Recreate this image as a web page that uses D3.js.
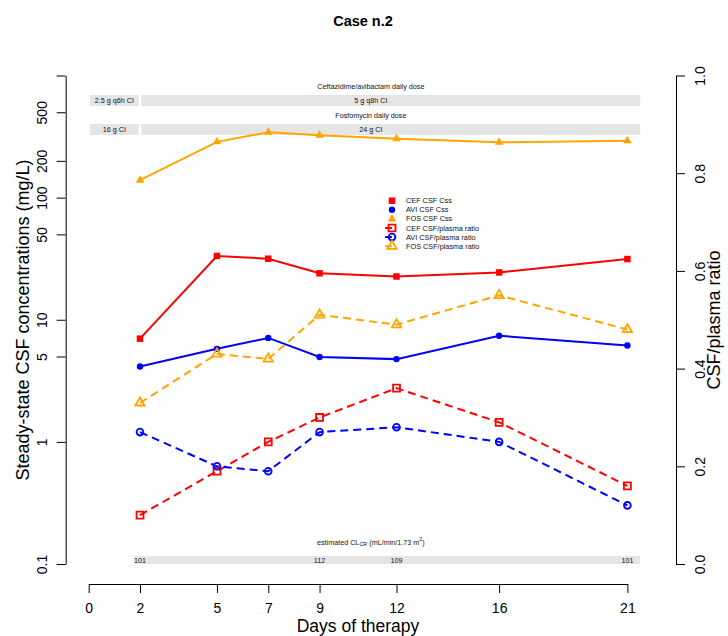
<!DOCTYPE html>
<html>
<head>
<meta charset="utf-8">
<script src="https://cdn.jsdelivr.net/npm/d3@7"></script>
<style>
body { margin: 0; background: #fff; }
svg { display: block; font-family: "Liberation Sans", Arial, sans-serif; }
</style>
</head>
<body>
<script>
window.onload = main;

// days of therapy at which samples were taken
const days = [2, 5, 7, 9, 12, 16, 21];

// steady-state CSF concentrations (mg/L)
const cefCss = [7.0, 33.3, 31.6, 24.0, 22.6, 24.4, 31.4];
const aviCss = [4.14, 5.78, 7.1, 4.95, 4.76, 7.39, 6.15];
const fosCss = [139, 286, 343, 324, 303, 284, 292];

// CSF/plasma ratios
const cefRatio = [0.10, 0.19, 0.25, 0.30, 0.36, 0.29, 0.16];
const aviRatio = [0.27, 0.20, 0.19, 0.27, 0.28, 0.25, 0.12];
const fosRatio = [0.33, 0.43, 0.42, 0.51, 0.49, 0.55, 0.48];

const xTicks = [0, 2, 5, 7, 9, 12, 16, 21];
const yTicks = [0.1, 1, 5, 10, 50, 100, 200, 500, 1000];
const y2Ticks = [0, 0.2, 0.4, 0.6, 0.8, 1.0];

// dose regimens (day ranges)
const cazDoseLabels = ["2.5 g q6h CI", "5 g q8h CI"];
const fosDoseLabels = ["16 g CI", "24 g CI"];
const doseStart = [0.05, 2.05];
const doseEnd = [1.95, 21.5];
const doseLabelDay = [1, 11];

// estimated creatinine clearance
const clcrDays = [2, 9, 12, 21];
const clcrValues = [101, 112, 109, 101];

const svgWidth = 728;
const svgHeight = 636;

const RED = "#FF0000", BLUE = "#0000FF", ORANGE = "#FFA500";
const BAR_GRAY = "#E5E5E5";

function main() {
    const svg = d3.select("body").append("svg")
        .attr("width", svgWidth)
        .attr("height", svgHeight);

    const x = d3.scaleLinear().domain([0, 21]).range([88.7, 627.4]);
    const y = d3.scaleLog().domain([0.1, 1000]).range([564, 75.5]);
    const y2 = d3.scaleLinear().domain([0, 1]).range([564, 75.5]);

    // title
    svg.append("text")
        .attr("x", 363).attr("y", 26)
        .attr("text-anchor", "middle")
        .style("font-size", "14.5px").style("font-weight", "bold")
        .text("Case n.2");

    // dose bars
    const drawDoseRow = (title, labels, yTop, titleY) => {
        svg.append("text")
            .attr("x", x(11)).attr("y", titleY)
            .attr("text-anchor", "middle").attr("dominant-baseline", "central")
            .style("font-size", "7.2px").attr("fill", "#111")
            .text(title);
        labels.forEach((lab, i) => {
            svg.append("rect")
                .attr("x", x(doseStart[i])).attr("y", yTop)
                .attr("width", x(doseEnd[i]) - x(doseStart[i])).attr("height", 11)
                .attr("fill", BAR_GRAY);
            svg.append("text")
                .attr("x", x(doseLabelDay[i])).attr("y", yTop + 5.5)
                .attr("text-anchor", "middle").attr("dominant-baseline", "central")
                .style("font-size", "7.2px").attr("fill", "#111")
                .text(lab);
        });
    };
    drawDoseRow("Ceftazidime/avibactam daily dose", cazDoseLabels, 95, 86);
    drawDoseRow("Fosfomycin daily dose", fosDoseLabels, 124, 115);

    // CLcr bar
    const clG = svg.append("g");
    const clT = clG.append("text")
        .attr("x", x(11)).attr("y", 542)
        .attr("text-anchor", "middle").attr("dominant-baseline", "central")
        .style("font-size", "7.2px").attr("fill", "#111");
    clT.append("tspan").text("estimated CL");
    clT.append("tspan").attr("dy", 2).style("font-size", "5.5px").text("CR");
    clT.append("tspan").attr("dy", -2).text(" (mL/min/1.73 m");
    clT.append("tspan").attr("dy", -3).style("font-size", "5.5px").text("2");
    clT.append("tspan").attr("dy", 3).text(")");
    clG.append("rect")
        .attr("x", x(1.77)).attr("y", 556)
        .attr("width", x(21.5) - x(1.77)).attr("height", 8)
        .attr("fill", BAR_GRAY);
    clG.selectAll(null).data(clcrDays).join("text")
        .attr("x", d => x(d)).attr("y", 560)
        .attr("text-anchor", "middle").attr("dominant-baseline", "central")
        .style("font-size", "7.2px").attr("fill", "#111")
        .text((d, i) => clcrValues[i]);

    // axes
    const styleAxis = g => {
        g.select(".domain").attr("stroke", "#000");
        g.selectAll(".tick line").attr("stroke", "#000");
        g.selectAll(".tick text").style("font-size", "14px").attr("fill", "#000")
            .style("font-family", "'Liberation Sans', Arial, sans-serif");
    };

    const gx = svg.append("g").attr("transform", "translate(0,584)")
        .call(d3.axisBottom(x).tickValues(xTicks).tickSize(9).tickSizeOuter(0));
    styleAxis(gx);
    gx.selectAll(".tick text").attr("y", 29).attr("dy", 0);

    const gy = svg.append("g").attr("transform", "translate(65.7,0)")
        .call(d3.axisLeft(y).tickValues(yTicks).tickSize(9).tickSizeOuter(0)
            .tickFormat(d => d === 1000 ? "" : String(d)));
    styleAxis(gy);
    gy.selectAll(".tick text")
        .attr("transform", "rotate(-90)")
        .attr("x", 0).attr("y", -19).attr("dy", 0)
        .attr("text-anchor", "middle");

    const gy2 = svg.append("g").attr("transform", "translate(676,0)")
        .call(d3.axisRight(y2).tickValues(y2Ticks).tickSize(9).tickSizeOuter(0)
            .tickFormat(d3.format(".1f")));
    styleAxis(gy2);
    gy2.selectAll(".tick text")
        .attr("transform", "rotate(-90)")
        .attr("x", 0).attr("y", 28.5).attr("dy", 0)
        .attr("text-anchor", "middle");

    // axis titles
    svg.append("text")
        .attr("transform", "translate(29,320) rotate(-90)")
        .attr("text-anchor", "middle").style("font-size", "18px")
        .text("Steady-state CSF concentrations (mg/L)");
    svg.append("text")
        .attr("transform", "translate(719.5,320) rotate(-90)")
        .attr("text-anchor", "middle").style("font-size", "18px")
        .text("CSF/plasma ratio");
    svg.append("text")
        .attr("x", 358).attr("y", 632)
        .attr("text-anchor", "middle").style("font-size", "17.5px")
        .text("Days of therapy");

    const series = [
        {name: "CEF CSF Css", values: cefCss, scale: y, color: RED, shape: d3.symbolSquare, size: 42, filled: true},
        {name: "AVI CSF Css", values: aviCss, scale: y, color: BLUE, shape: d3.symbolCircle, size: 32, filled: true},
        {name: "FOS CSF Css", values: fosCss, scale: y, color: ORANGE, shape: d3.symbolTriangle, size: 32, filled: true},
        {name: "CEF CSF/plasma ratio", values: cefRatio, scale: y2, color: RED, shape: d3.symbolSquare, size: 48, filled: false},
        {name: "AVI CSF/plasma ratio", values: aviRatio, scale: y2, color: BLUE, shape: d3.symbolCircle, size: 36, filled: false},
        {name: "FOS CSF/plasma ratio", values: fosRatio, scale: y2, color: ORANGE, shape: d3.symbolTriangle, size: 38, filled: false}
    ];

    series.forEach(s => {
        const pts = days.map((d, i) => [d, s.values[i]]);
        const line = d3.line().x(p => x(p[0])).y(p => s.scale(p[1]));
        svg.append("path")
            .attr("d", line(pts))
            .attr("fill", "none")
            .attr("stroke", s.color)
            .attr("stroke-width", 2)
            .attr("stroke-dasharray", s.filled ? null : "8,5");
        svg.append("g").selectAll(null).data(pts).join("path")
            .attr("transform", p => `translate(${x(p[0])},${s.scale(p[1])})`)
            .attr("d", d3.symbol().type(s.shape).size(s.size))
            .attr("fill", s.filled ? s.color : "none")
            .attr("stroke", s.filled ? "none" : s.color)
            .attr("stroke-width", 1.8);
    });

    // legend
    const legend = svg.append("g");
    series.forEach((s, i) => {
        const ly = 200.7 + i * 9.1;
        if (!s.filled) {
            legend.append("line")
                .attr("x1", 385).attr("x2", 392).attr("y1", ly).attr("y2", ly)
                .attr("stroke", s.color).attr("stroke-width", 2);
        }
        legend.append("path")
            .attr("transform", `translate(392,${ly})`)
            .attr("d", d3.symbol().type(s.shape).size(s.size))
            .attr("fill", s.filled ? s.color : "none")
            .attr("stroke", s.filled ? "none" : s.color)
            .attr("stroke-width", 1.8);
        legend.append("text")
            .attr("x", 406).attr("y", ly)
            .attr("dominant-baseline", "central")
            .style("font-size", "7.3px").attr("fill", "#111")
            .text(s.name);
    });
}
</script>
</body>
</html>
